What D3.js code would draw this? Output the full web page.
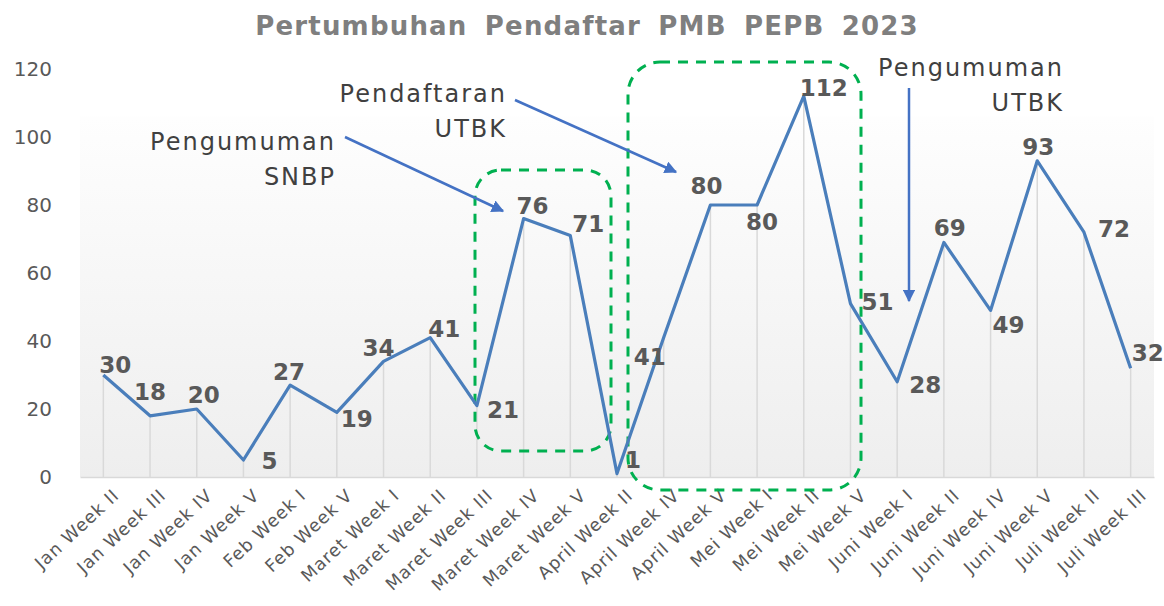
<!DOCTYPE html>
<html>
<head>
<meta charset="utf-8">
<script src="https://cdn.jsdelivr.net/npm/d3@7"></script>
<style>
  body { margin: 0; background: #fff; }
  svg { display: block; font-family: "DejaVu Sans", sans-serif; }
</style>
</head>
<body>
<script>
// data
const categories = ['Jan Week II', 'Jan Week III', 'Jan Week IV', 'Jan Week V', 'Feb Week I', 'Feb Week V',
  'Maret Week I', 'Maret Week II', 'Maret Week III', 'Maret Week IV', 'Maret Week V', 'April Week II',
  'April Week IV', 'April Week V', 'Mei Week I', 'Mei Week II', 'Mei Week V', 'Juni Week I',
  'Juni Week II', 'Juni Week IV', 'Juni Week V', 'Juli Week II', 'Juli Week III']
const values = [30, 18, 20, 5, 27, 19, 34, 41, 21, 76, 71, 1, 41, 80, 80, 112, 51, 28, 69, 49, 93, 72, 32]
const yTicks = [0, 20, 40, 60, 80, 100, 120]

// where each value label sits relative to its point (label centre offset)
const labelOffsets = [[12, -10], [0, -24], [7, -14], [26, 1], [-1, -13], [20, 6], [-5, -14], [14, -9],
  [26, 4], [9, -13], [18, -12], [16, -14], [-14, 19], [-4, -19], [5, 17], [20, -8], [27, -2],
  [28, 3], [6, -15], [18, 14], [1, -14], [30, -3], [17, -15]]

const width = 1164, height = 606
const margin = { left: 80, right: 10, top: 69, bottom: 129 }

const svg = d3.select('body').append('svg')
  .attr('width', width)
  .attr('height', height)

const x = d3.scaleBand()
  .domain(categories)
  .range([margin.left, width - margin.right])

const y = d3.scaleLinear()
  .domain([0, 120])
  .range([height - margin.bottom, margin.top])

const cx = d => x(d) + x.bandwidth() / 2

// plot background gradient
const defs = svg.append('defs')
const grad = defs.append('linearGradient')
  .attr('id', 'bg')
  .attr('x1', 0).attr('y1', 0).attr('x2', 0).attr('y2', 1)
grad.append('stop').attr('offset', '0%').attr('stop-color', '#fefefe')
grad.append('stop').attr('offset', '100%').attr('stop-color', '#eeeeee')

defs.append('marker')
  .attr('id', 'arrow')
  .attr('viewBox', '0 0 10 10')
  .attr('refX', 9).attr('refY', 5)
  .attr('markerWidth', 5).attr('markerHeight', 5)
  .attr('markerUnits', 'strokeWidth')
  .attr('orient', 'auto')
  .append('path')
  .attr('d', 'M0,0L10,5L0,10z')
  .attr('fill', '#4472c4')

svg.append('rect')
  .attr('x', margin.left)
  .attr('y', y(106))
  .attr('width', width - margin.right - margin.left)
  .attr('height', y(0) - y(106))
  .attr('fill', 'url(#bg)')

// title
svg.append('text')
  .attr('x', 587)
  .attr('y', 35)
  .attr('text-anchor', 'middle')
  .attr('font-size', 26)
  .attr('font-weight', 'bold')
  .attr('fill', '#7f7f7f')
  .attr('letter-spacing', 1.2)
  .attr('word-spacing', 7)
  .text('Pertumbuhan Pendaftar PMB PEPB 2023')

// y axis labels
const yAxis = svg.append('g')
  .attr('transform', `translate(${margin.left},0)`)
  .call(d3.axisLeft(y).tickValues(yTicks).tickSize(0).tickPadding(28))
yAxis.select('.domain').remove()
yAxis.selectAll('text')
  .attr('font-size', 20)
  .attr('font-family', '"DejaVu Sans", sans-serif')
  .attr('fill', '#595959')

// drop lines
svg.append('g')
  .selectAll('line')
  .data(values)
  .join('line')
  .attr('x1', (d, i) => cx(categories[i]))
  .attr('x2', (d, i) => cx(categories[i]))
  .attr('y1', d => y(d))
  .attr('y2', y(0))
  .attr('stroke', '#d9d9d9')
  .attr('stroke-width', 1.5)

// x axis
const xAxis = svg.append('g')
  .attr('transform', `translate(0,${y(0)})`)
  .call(d3.axisBottom(x).tickSize(0).tickPadding(10))
xAxis.select('.domain')
  .attr('stroke', '#d9d9d9')
  .attr('stroke-width', 1.5)
xAxis.selectAll('text')
  .attr('font-size', 17.5)
  .attr('font-family', '"DejaVu Sans", sans-serif')
  .attr('letter-spacing', 1)
  .attr('fill', '#595959')
  .attr('text-anchor', 'end')
  .attr('dy', '0.35em')
  .attr('transform', 'translate(6,8) rotate(-43)')

// highlight boxes
const boxes = [
  { x0: 475, y0: 170, x1: 611, y1: 451, r: 26 },
  { x0: 628, y0: 62, x1: 861, y1: 490, r: 32 }
]
svg.append('g')
  .selectAll('rect')
  .data(boxes)
  .join('rect')
  .attr('x', d => d.x0)
  .attr('y', d => d.y0)
  .attr('width', d => d.x1 - d.x0)
  .attr('height', d => d.y1 - d.y0)
  .attr('rx', d => d.r)
  .attr('fill', 'none')
  .attr('stroke', '#00b050')
  .attr('stroke-width', 3)
  .attr('stroke-dasharray', '10 8')

// line
const line = d3.line()
  .x((d, i) => cx(categories[i]))
  .y(d => y(d))

svg.append('path')
  .datum(values)
  .attr('d', line)
  .attr('fill', 'none')
  .attr('stroke', '#4a7ebb')
  .attr('stroke-width', 3.2)
  .attr('stroke-linejoin', 'round')

// value labels
svg.append('g')
  .selectAll('text')
  .data(values)
  .join('text')
  .attr('x', (d, i) => cx(categories[i]) + labelOffsets[i][0])
  .attr('y', (d, i) => y(d) + labelOffsets[i][1])
  .attr('dy', '0.36em')
  .attr('text-anchor', 'middle')
  .attr('font-size', 23)
  .attr('font-weight', 'bold')
  .attr('fill', '#595959')
  .text(d => d)

// annotations
const notes = [
  { lines: ['Pengumuman', 'SNBP'], x: 336, y: 150 },
  { lines: ['Pendaftaran', 'UTBK'], x: 507, y: 102 },
  { lines: ['Pengumuman', 'UTBK'], x: 1064, y: 76 }
]
notes.forEach(n => {
  const t = svg.append('text')
    .attr('text-anchor', 'end')
    .attr('font-size', 24)
    .attr('letter-spacing', 2)
    .attr('fill', '#404040')
  n.lines.forEach((s, k) => {
    t.append('tspan')
      .attr('x', n.x)
      .attr('y', n.y + k * 35)
      .text(s)
  })
})

const arrows = [
  [345, 137, 503, 211],
  [515, 100, 676, 172],
  [909, 88, 909, 301]
]
svg.append('g')
  .selectAll('line')
  .data(arrows)
  .join('line')
  .attr('x1', d => d[0]).attr('y1', d => d[1])
  .attr('x2', d => d[2]).attr('y2', d => d[3])
  .attr('stroke', '#4472c4')
  .attr('stroke-width', 2.5)
  .attr('marker-end', 'url(#arrow)')
</script>
</body>
</html>
